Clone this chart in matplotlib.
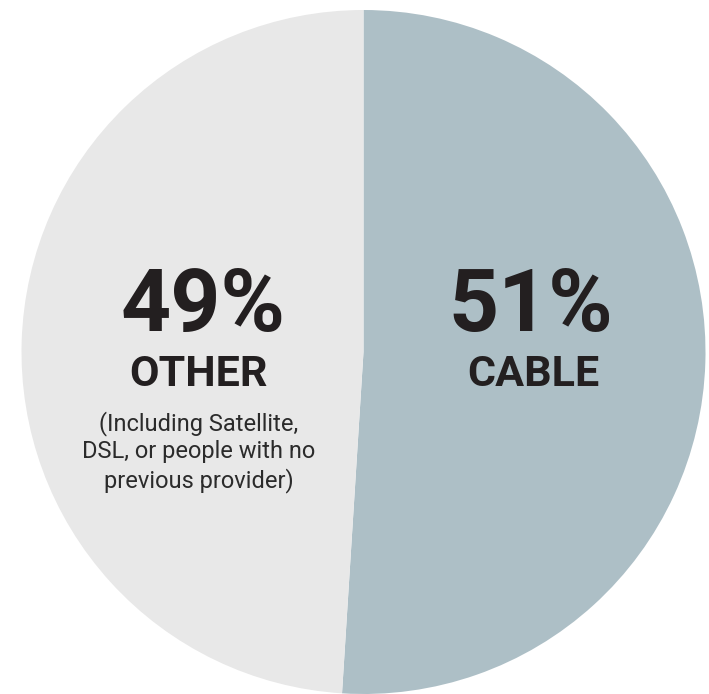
import matplotlib
matplotlib.use("Agg")
import matplotlib.pyplot as plt

# data
labels = ["CABLE", "OTHER"]
shares = [51, 49]
colors = ["#adbfc6", "#e8e8e8"]
pct_text = ["51%", "49%"]
note = "(Including Satellite,\nDSL, or people with no\nprevious provider)"

W, H = 709, 694
fig = plt.figure(figsize=(W / 100, H / 100), dpi=100)
ax = fig.add_axes([0, 0, 1, 1])

cx, cy, r = 363.5, H - 352, 342
ax.pie(shares, colors=colors, startangle=90, counterclock=False,
       center=(cx, cy), radius=r, wedgeprops=dict(linewidth=0),
       frame=True)
ax.set_xlim(0, W)
ax.set_ylim(0, H)
ax.set_aspect("equal")
ax.axis("off")

dark = "#231f20"
font = "Roboto"
# cable label (right)
ax.text(531, H - 307, pct_text[0], ha="center", va="center", fontsize=63,
        fontweight="bold", color=dark, family=font)
ax.text(533, H - 374, labels[0], ha="center", va="center", fontsize=31,
        fontweight="bold", color=dark, family=font)
# other label (left)
ax.text(203, H - 307, pct_text[1], ha="center", va="center", fontsize=63,
        fontweight="bold", color=dark, family=font)
ax.text(198, H - 374, labels[1], ha="center", va="center", fontsize=31,
        fontweight="bold", color=dark, family=font)
ax.text(199, H - 452, note, ha="center", va="center", fontsize=17,
        color="#2b2b2b", family=font, linespacing=1.25)

fig.savefig("out.png", dpi=100, facecolor="white")
